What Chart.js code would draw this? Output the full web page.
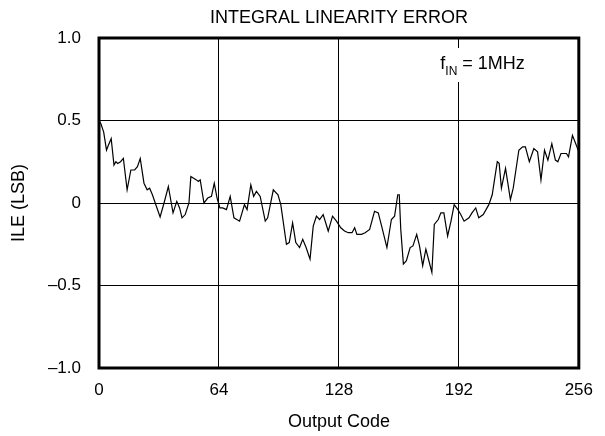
<!DOCTYPE html>
<html>
<head>
<meta charset="utf-8">
<script src="https://cdn.jsdelivr.net/npm/chart.js@4"></script>
<style>
html,body{margin:0;padding:0;background:#fff}
#wrap{width:605px;height:436px}
</style>
</head>
<body>
<div id="wrap"><canvas id="ileChart"></canvas></div>
<script>
let chartTitle = "INTEGRAL LINEARITY ERROR"
let xTitle = "Output Code"
let yTitle = "ILE (LSB)"
let xTicks = [0,64,128,192,256]
let yTicks = [-1,-0.5,0,0.5,1]

// output code vs ILE
let codes = [0,1,2.5,4,5,6.5,8,9,10,11.5,13,15,17,19,20.5,22,24,25.7,27,28.5,30,32.6,34.7,37,39.5,41.5,43,44.3,46,48,49,50.5,52,53,54,56,58,60,61.5,63,64.5,66,68,70,72,75,77.6,79,81,82.5,84,86,88.7,90,93,95.5,97,100,101.5,103.3,105,107,108.7,110.5,112.6,114.3,116,117.7,119.6,122.3,124.6,126.7,129,131,133,135,136.4,137.6,140,142,144.4,147,149,150.8,153.6,156,157.7,159.4,160.2,161,162.4,164,166,167.5,169.5,171,172.7,174.4,176,177.6,178.9,181,182.4,184,186,187.8,189.5,191.5,193,194.8,197.4,199,201,202.6,205,208,209.8,211,212.5,213.5,214.7,216.9,219.5,221,224,226,227.5,229.6,232,234,235.8,237.7,239.5,241.6,243.5,244.8,246.5,249.4,250.5,252.6,254,256]
let ile = [0.50,0.48,0.43,0.32,0.35,0.39,0.23,0.25,0.24,0.25,0.27,0.08,0.20,0.20,0.22,0.27,0.12,0.08,0.09,0.05,0.00,-0.085,0.00,0.10,-0.06,0.01,-0.03,-0.09,-0.07,0.00,0.16,0.15,0.14,0.13,0.14,0.00,0.03,0.04,0.12,0.03,-0.03,-0.03,-0.04,0.04,-0.09,-0.11,-0.01,-0.04,0.11,0.04,0.07,0.04,-0.11,-0.09,0.08,0.05,-0.01,-0.25,-0.24,-0.12,-0.24,-0.27,-0.22,-0.27,-0.34,-0.14,-0.08,-0.10,-0.07,-0.17,-0.08,-0.11,-0.15,-0.17,-0.18,-0.18,-0.15,-0.19,-0.19,-0.18,-0.16,-0.05,-0.06,-0.14,-0.27,-0.10,-0.08,0.05,0.05,-0.16,-0.37,-0.35,-0.27,-0.26,-0.19,-0.26,-0.38,-0.28,-0.35,-0.42,-0.13,-0.10,-0.06,-0.06,-0.20,-0.11,-0.01,-0.04,-0.07,-0.11,-0.09,-0.06,-0.03,-0.09,-0.07,-0.01,0.05,0.14,0.25,0.24,0.09,0.21,0.02,0.09,0.32,0.34,0.34,0.25,0.33,0.31,0.14,0.32,0.26,0.36,0.26,0.25,0.30,0.30,0.28,0.41,0.37,0.31]

let points = codes.map((c,i)=>({x:c,y:ile[i]}))
let font = "'Liberation Sans', Arial, sans-serif"

let decor = {
id:"decor",
beforeDatasetsDraw(chart){
let ctx = chart.ctx
let a = chart.chartArea
// blank the grid behind the note
ctx.save()
ctx.fillStyle = "#fff"
ctx.fillRect(a.right-148,a.top+10,100,34)
ctx.restore()
},
afterDraw(chart){
let ctx = chart.ctx
let a = chart.chartArea
ctx.save()
ctx.strokeStyle = "#000"
ctx.lineWidth = 3
ctx.strokeRect(a.left,a.top,a.right-a.left,a.bottom-a.top)
ctx.fillStyle = "#000"
ctx.textBaseline = "alphabetic"
ctx.textAlign = "center"
ctx.font = "18px " + font
ctx.fillText(chartTitle,(a.left+a.right)/2,23)
// f_IN = 1MHz
ctx.textAlign = "left"
let rest = " = 1MHz"
let endX = a.right - 54
ctx.font = "18px " + font
let wRest = ctx.measureText(rest).width
let wF = ctx.measureText("f").width
ctx.font = "12px " + font
let wSub = ctx.measureText("IN").width
let x0 = endX - wRest - wSub - wF
ctx.font = "18px " + font
ctx.fillText("f",x0,a.top+31)
ctx.fillText(rest,x0+wF+wSub,a.top+31)
ctx.font = "12px " + font
ctx.fillText("IN",x0+wF,a.top+37)
ctx.restore()
}
}

new Chart(document.getElementById("ileChart"),{
type:"line",
data:{
datasets:[{
data:points,
borderColor:"#000",
borderWidth:1.2,
pointRadius:0,
tension:0,
fill:false
}]
},
options:{
responsive:true,
maintainAspectRatio:false,
animation:false,
layout:{padding:{top:38,right:23,left:0,bottom:0}},
plugins:{legend:{display:false},tooltip:{enabled:false},title:{display:false}},
scales:{
x:{
type:"linear",
min:0,
max:256,
afterBuildTicks(axis){axis.ticks = xTicks.map(v=>({value:v}))},
afterFit(axis){axis.height = 68},
grid:{color:"#000",lineWidth:1,drawTicks:false},
border:{display:false},
ticks:{color:"#000",padding:12,font:{size:17,family:font},maxRotation:0},
title:{display:true,text:xTitle,color:"#000",font:{size:18,family:font},padding:{top:0,bottom:3}}
},
y:{
min:-1,
max:1,
afterBuildTicks(axis){axis.ticks = yTicks.map(v=>({value:v}))},
afterFit(axis){axis.width = 99},
grid:{color:"#000",lineWidth:1,drawTicks:false},
border:{display:false},
ticks:{
color:"#000",
padding:18,
font:{size:17,family:font},
callback:function(v){
if(v==0) return "0"
return (v<0 ? "\u2013" : "") + Math.abs(v).toFixed(1)
}
},
title:{display:true,text:yTitle,color:"#000",font:{size:18,family:font},padding:{top:8,bottom:0}}
}
}
},
plugins:[decor]
})
</script>
</body>
</html>
